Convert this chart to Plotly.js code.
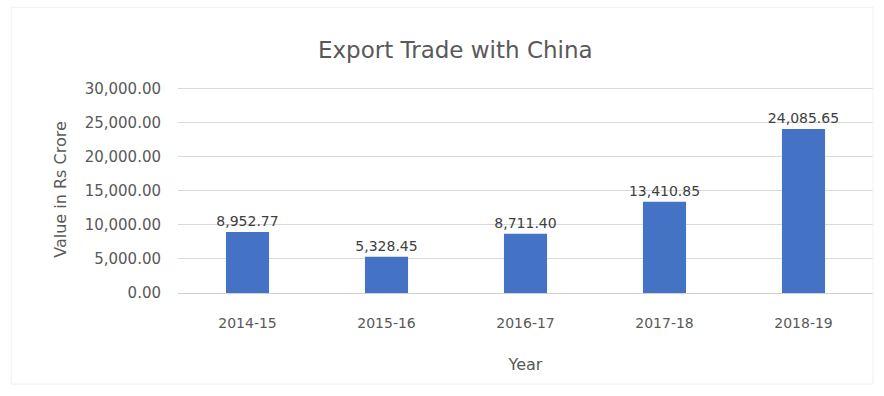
<!DOCTYPE html>
<html>
<head>
<meta charset="utf-8">
<script src="https://cdn.plot.ly/plotly-3.0.1.min.js"></script>
<style>html,body{margin:0;padding:0;background:#fff;}#chart{width:884px;height:396px;}</style>
</head>
<body>
<div id="chart"></div>
<script>
const years = ["2014-15", "2015-16", "2016-17", "2017-18", "2018-19"];
const exportValues = [8952.77, 5328.45, 8711.40, 13410.85, 24085.65];
const yTicks = [0, 5000, 10000, 15000, 20000, 25000, 30000];

const fontFam = "DejaVu Sans, sans-serif";
const trace = {
  type: "bar",
  x: years,
  y: exportValues,
  marker: {color: "#4472C4"},
  text: exportValues.map(v => v.toLocaleString("en-US", {minimumFractionDigits: 2, maximumFractionDigits: 2})),
  textposition: "outside",
  constraintext: "none",
  cliponaxis: false,
  textfont: {family: fontFam, size: 14, color: "#404040"},
  hoverinfo: "x+y"
};
const layout = {
  width: 884, height: 396,
  margin: {l: 178, r: 11, t: 86, b: 103},
  paper_bgcolor: "#fff", plot_bgcolor: "#fff",
  bargap: 0.69,
  showlegend: false,
  title: {text: "Export Trade with China", x: 0.515, xanchor: "center", y: 0.875, yanchor: "middle",
          font: {family: fontFam, size: 23, color: "#595959"}},
  xaxis: {
    type: "category",
    title: {text: "Year", font: {family: fontFam, size: 16, color: "#595959"}, standoff: 28},
    tickfont: {family: fontFam, size: 14, color: "#595959"},
    ticks: "", showline: false, showgrid: false, ticklabelstandoff: 20
  },
  yaxis: {
    range: [0, 30400],
    tickvals: yTicks,
    tickformat: ",.2f",
    title: {text: "Value in Rs Crore", font: {family: fontFam, size: 16, color: "#595959"}, standoff: 14},
    tickfont: {family: fontFam, size: 15, color: "#595959"},
    gridcolor: "#d9d9d9", gridwidth: 1, zeroline: true, zerolinecolor: "#d0d0d0",
    showline: false, ticks: "", ticklabelstandoff: 16
  },
  shapes: [{type: "rect", xref: "paper", yref: "paper", x0: -0.24, x1: 1.0, y0: -0.44, y1: 1.38,
            line: {color: "#f0f0f0", width: 1}, fillcolor: "rgba(0,0,0,0)"}]
};
Plotly.newPlot("chart", [trace], layout, {displayModeBar: false, staticPlot: true});
</script>
</body>
</html>
